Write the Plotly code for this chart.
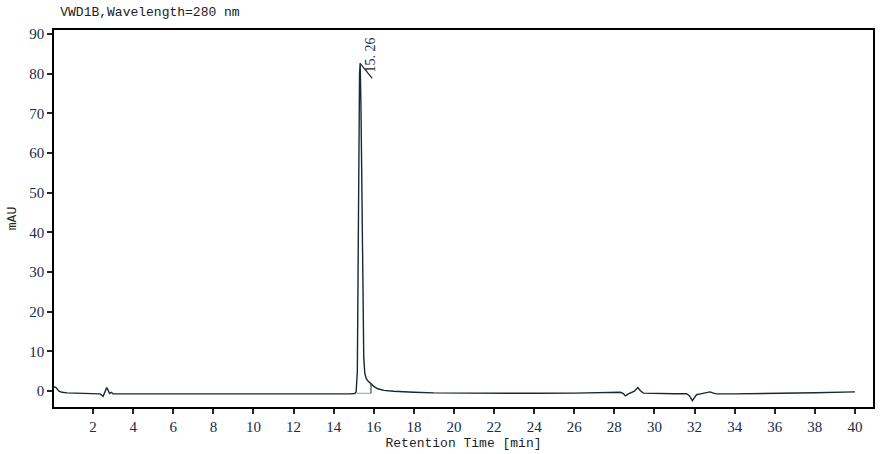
import plotly.graph_objects as go

# chromatogram trace (min, mAU)
time_min = [
    0.05, 0.15, 0.3, 0.45, 0.7, 1.0, 1.5, 2.0, 2.35, 2.5, 2.6, 2.68, 2.75, 2.82, 2.9, 3.0,
    3.5, 4.5, 6.0, 8.0, 9.0, 10.0, 10.3, 11.0, 12.0, 13.0, 14.0, 14.8, 15.05, 15.12,
    15.18, 15.22, 15.26, 15.29, 15.32, 15.36, 15.40, 15.44, 15.47, 15.50, 15.55,
    15.62, 15.70, 15.80, 15.90, 16.0, 16.2, 16.5, 17.0, 17.5, 18.0, 19.0, 20.0,
    21.0, 22.0, 24.0, 26.0, 27.5, 28.3, 28.45, 28.55, 28.7, 28.87, 29.0, 29.17,
    29.3, 29.45, 30.0, 31.0, 31.6, 31.75, 31.89, 32.0, 32.1, 32.3, 32.5, 32.77,
    32.95, 33.1, 34.0, 36.0, 38.0, 40.0,
]
signal_mau = [
    1.1, 0.9, 0.0, -0.3, -0.45, -0.5, -0.6, -0.65, -0.7, -1.3, 0.0, 0.9, 0.2, -0.6, -0.3, -0.7,
    -0.7, -0.7, -0.75, -0.75, -0.8, -0.75, -0.7, -0.75, -0.75, -0.75, -0.75, -0.7, -0.6, -0.2,
    5.0, 25.0, 60.0, 80.0, 82.6, 72.0, 52.0, 30.0, 16.0, 8.5, 4.6,
    3.2, 2.6, 2.1, 1.7, 1.2, 0.6, 0.2, -0.05, -0.2, -0.3, -0.45, -0.5,
    -0.5, -0.55, -0.55, -0.5, -0.35, -0.3, -0.6, -1.2, -0.7, -0.4, 0.0, 0.9,
    0.1, -0.5, -0.6, -0.65, -0.65, -1.2, -2.4, -1.6, -0.9, -0.7, -0.55, -0.2,
    -0.5, -0.7, -0.7, -0.6, -0.4, -0.2,
]

peak_rt = 15.26
peak_top = 82.6
baseline_x = [15.15, 15.86]
baseline_y = [-0.55, -0.55]
end_mark_x = [15.86, 15.86]
end_mark_y = [-0.55, 1.8]

line_col = "#1b2636"
font_cn = "Liberation Mono, DejaVu Sans Mono, monospace"
font_num = "Liberation Serif, DejaVu Serif, serif"

fig = go.Figure()
fig.add_trace(go.Scatter(x=baseline_x, y=baseline_y, mode="lines",
                         line=dict(color="#9aa0a8", width=1), hoverinfo="skip"))
fig.add_trace(go.Scatter(x=end_mark_x, y=end_mark_y, mode="lines",
                         line=dict(color=line_col, width=1), hoverinfo="skip"))
fig.add_trace(go.Scatter(x=time_min, y=signal_mau, mode="lines",
                         line=dict(color=line_col, width=1.4)))
# leader line from apex to the label
fig.add_trace(go.Scatter(x=[15.32, 15.92], y=[peak_top, 78.8], mode="lines",
                         line=dict(color=line_col, width=1.2), hoverinfo="skip"))

fig.add_annotation(x=15.82, y=79.7, text=f"{peak_rt:.2f}".replace(".", ". "),
                   textangle=-90, showarrow=False, xanchor="center", yanchor="bottom",
                   font=dict(family=font_num, size=14, color=line_col))

fig.update_layout(
    width=886, height=454,
    margin=dict(l=54, r=13, t=30, b=47),
    paper_bgcolor="white", plot_bgcolor="white",
    showlegend=False,
    title=dict(text="VWD1B,Wavelength=280 nm", x=0.068, xanchor="left",
               y=0.985, yanchor="top",
               font=dict(family=font_cn, size=13, color="#222")),
)
fig.update_xaxes(
    range=[0.05, 40.9], tickvals=list(range(2, 41, 2)),
    showgrid=False, zeroline=False, automargin=False,
    showline=True, linecolor="black", linewidth=1.5, mirror=True,
    ticks="outside", ticklen=5, tickcolor=line_col, tickwidth=1.5,
    tickfont=dict(family=font_num, size=15, color="#1b2a4a"),
    title=dict(text="Retention Time [min]", standoff=4,
               font=dict(family=font_cn, size=13, color="#222")),
)
fig.update_yaxes(
    range=[-4, 91], tickvals=list(range(0, 91, 10)),
    showgrid=False, zeroline=False, automargin=False,
    showline=True, linecolor="black", linewidth=1.5, mirror=True,
    ticks="outside", ticklen=5, tickcolor=line_col, tickwidth=1.5,
    tickfont=dict(family=font_num, size=15, color="#1b2a4a"),
    title=dict(text="mAU", standoff=10,
               font=dict(family=font_cn, size=13, color="#222")),
)

fig.write_html("out.html", config={"displayModeBar": False},
               post_script="document.body.style.margin='0';")
